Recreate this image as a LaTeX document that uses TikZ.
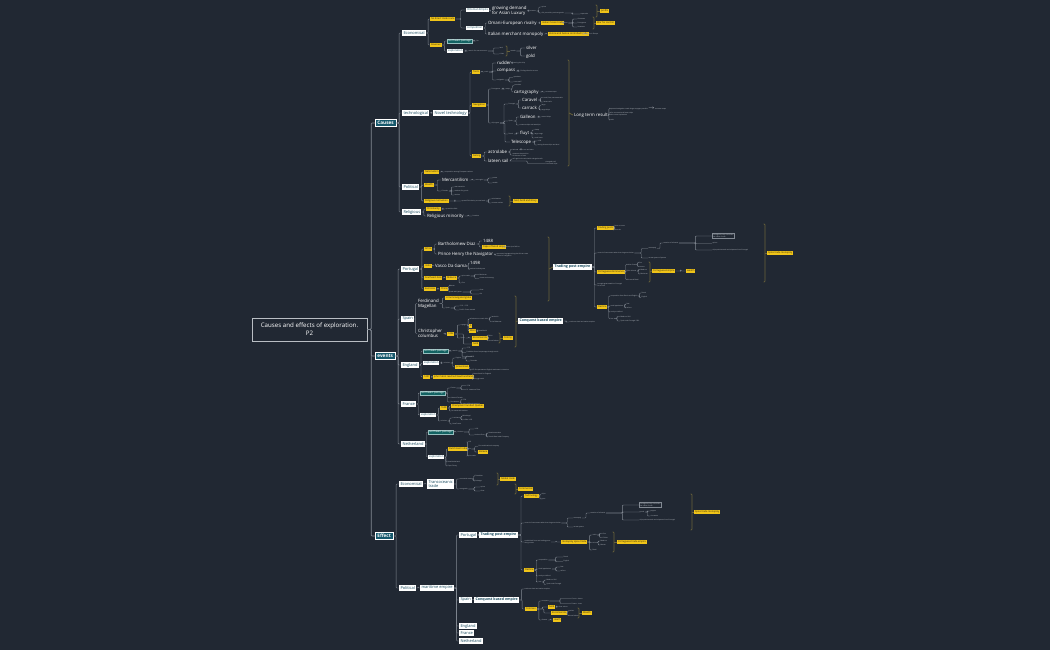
\documentclass[tikz,border=0pt]{standalone}
\usepackage{fontspec}
\setmainfont{Open Sans}
\usetikzlibrary{calc}
\definecolor{bg}{RGB}{33,40,51}
\definecolor{lvlfill}{RGB}{22,88,108}
\definecolor{tealbox}{RGB}{18,98,98}
\definecolor{wtext}{RGB}{25,75,95}
\definecolor{ylw}{RGB}{240,196,25}
\definecolor{ytext}{RGB}{50,40,10}
\definecolor{linec}{RGB}{130,137,147}
\definecolor{ttext}{RGB}{200,205,211}
\definecolor{olive}{RGB}{105,98,58}
\newcommand\kid[6]{\node[#3,anchor=west] (#2) at (#4,#5) {#6}; \draw[conn] (#1.east) to[elbow] (#2.west);}
\newcommand\summ[4]{\draw[brkt] ({#1-1.5},#2) -- (#1,#2) -- (#1,#3) -- ({#1-1.5},#3); \draw[brkt] (#1,{(#2+#3)/2}) -- (#4.west);}
\begin{document}
\begin{tikzpicture}[x=1bp,y=-1bp,
  elbow/.style={to path={-| ($(\tikztostart)!.5!(\tikztotarget)$) |- (\tikztotarget)}},
  conn/.style={draw=linec,line width=0.4bp,rounded corners=0.8bp},
  trunk/.style={draw=linec,line width=0.7bp,rounded corners=1bp},
  brkt/.style={draw=olive,line width=0.7bp,rounded corners=0.8bp},
  root/.style={draw={rgb,255:red,185;green,190;blue,196},line width=0.7bp,fill=bg,text=white,font=\fontsize{6.2}{8.2}\selectfont,align=center,minimum width=115bp,minimum height=23bp,inner sep=1bp},
  lvl/.style={fill=lvlfill,draw=white,line width=0.4bp,text=white,font=\bfseries\fontsize{4.7}{5.5}\selectfont,inner xsep=2.2bp,inner ysep=1.8bp},
  wb/.style={fill=white,text=wtext,font=\fontsize{4}{4.8}\selectfont,inner xsep=1.3bp,inner ysep=1.3bp,align=left},
  wbt/.style={fill=white,text=wtext,font=\bfseries\fontsize{3.6}{4.4}\selectfont,inner xsep=1.4bp,inner ysep=1.4bp},
  wbs/.style={fill=white,text=wtext,font=\fontsize{2.7}{3.1}\selectfont,inner sep=1bp},
  tb/.style={fill=tealbox,draw={rgb,255:red,150;green,190;blue,190},line width=0.2bp,text=white,font=\fontsize{2.6}{3}\selectfont,inner sep=1bp},
  yb/.style={fill=ylw,text=ytext,font=\fontsize{2.4}{2.8}\selectfont,inner sep=0.9bp},
  pt/.style={text=white,font=\fontsize{4.4}{5}\selectfont,inner sep=0.8bp,align=left},
  tt/.style={text=ttext,font=\fontsize{1.6}{1.9}\selectfont,inner sep=0.5bp,align=left},
  tob/.style={tt,draw=linec,line width=0.3bp,inner sep=0.8bp}]
\fill[bg] (0,0) rectangle (1050,650);
\useasboundingbox (0,0) rectangle (1050,650);

% ---------- root and main levels
\node[root] (root) at (309.5,329.5) {Causes and effects of exploration.\\P2};
\node[lvl,anchor=west] (causes) at (375,123) {Causes};
\node[lvl,anchor=west] (events) at (375,356) {events};
\node[lvl,anchor=west] (effect) at (375,536) {Effect};
\draw[trunk] (root.east) to[elbow] (causes.west);
\draw[trunk] (root.east) to[elbow] (events.west);
\draw[trunk] (root.east) to[elbow] (effect.west);

% ---------- CAUSES
\kid{causes}{eco}{wb}{402}{33}{Economical}
\kid{causes}{tech}{wb}{402}{113}{technological}
\kid{causes}{pol}{wb}{402}{187}{Political}
\kid{causes}{rel}{wb}{402}{212}{Religious}

% Economical
\kid{eco}{ecoA}{yb}{430}{19}{No direct trade route}
\kid{eco}{ecoB}{yb}{430}{45}{Revenue}
\kid{ecoA}{ott}{wbs}{466}{10}{Ottoman Empire}
\kid{ecoA}{comp}{wbs}{466}{28}{competition}
\kid{ott}{gd}{pt}{491}{11}{growing demand\\for Asian Luxury}
\kid{gd}{gd1}{tt}{529}{11}{because}
\kid{gd1}{gd2}{tt}{541}{7}{spices}
\kid{gd1}{gd3}{tt}{541}{13}{silk, porcelain, precious goods}
\kid{gd3}{gd4}{tt}{580}{14}{expensive}
\node[yb,anchor=west] (gd5) at (600,11) {profits};
\summ{597}{5}{17}{gd5}
\kid{comp}{omani}{pt}{487}{23}{Omani-European rivalry}
\kid{comp}{ital}{pt}{487}{34}{Italian merchant monopoly}
\kid{omani}{om1}{yb}{541}{23}{Indian Ocean trade}
\kid{om1}{om2}{tt}{562}{23}{Effects}
\kid{om2}{om3}{tt}{577}{19}{Ottomans}
\kid{om2}{om4}{tt}{577}{23}{Portuguese}
\kid{om2}{om5}{tt}{577}{27}{Venetians}
\node[yb,anchor=west] (om6) at (596,23) {War for control};
\summ{594}{17}{29}{om6}
\kid{ital}{it1}{yb}{548}{34}{Venice and Genoa controlled trade}
\kid{it1}{it2}{tt}{582}{34}{high prices in Europe}
\kid{ecoB}{nwp1}{tb}{447}{41}{northwest passage}
\kid{ecoB}{exp1}{wbs}{447}{51}{exploration}
\kid{nwp1}{nw1a}{tt}{476}{41}{fur}
\kid{exp1}{ex1a}{tt}{468}{51}{search for new resources}
\kid{ex1a}{ex1b}{tt}{499}{48}{land}
\kid{ex1a}{ex1c}{tt}{499}{54}{riches}
\node[tt,anchor=west] (ex1d) at (510,51) {metals};
\summ{507}{46}{56}{ex1d}
\kid{ex1d}{silver}{pt}{525}{48}{silver}
\kid{ex1d}{gold}{pt}{525}{56}{gold}

% Technological
\kid{tech}{novel}{wb}{433}{113}{Novel technology}
\kid{novel}{tools}{yb}{472}{72}{Tools}
\kid{novel}{navi}{yb}{472}{105}{Navigation}
\kid{novel}{sail}{yb}{472}{156}{Sailing}
\kid{tools}{tl1}{tt}{484}{72}{tools}
\kid{tl1}{rudder}{pt}{496}{63}{rudder}
\kid{tl1}{compass}{pt}{496}{71}{compass}
\kid{tl1}{quad}{tt}{496}{80}{navigation}
\kid{rudder}{ru1}{tt}{512}{63}{steering the ship}
\kid{compass}{co1}{tt}{520}{71}{finding direction at sea}
\kid{quad}{qu1}{tt}{513}{77.5}{quadrant}
\kid{quad}{qu2}{tt}{513}{82}{cross-staff}
\kid{navi}{nv1}{tt}{491}{89}{Portuguese}
\kid{nv1}{nv2}{tt}{505}{89}{maps}
\kid{nv2}{nv3}{tt}{514}{85.5}{portolan}
\kid{nv2}{carto}{pt}{513}{92}{cartography}
\kid{carto}{ca1}{tt}{545}{92}{accurate maps}
\kid{navi}{nv4}{tt}{491}{123}{ship types}
\kid{nv4}{nvP}{tt}{508}{104}{Portugal}
\kid{nv4}{nvS}{tt}{508}{121}{Spain}
\kid{nv4}{nvD}{tt}{508}{134}{Dutch}
\kid{nv4}{tele}{pt}{510}{142}{Telescope}
\kid{nvP}{carav}{pt}{521}{100}{Caravel}
\kid{nvP}{carr}{pt}{521}{108}{carrack}
\kid{carav}{cv1}{tt}{543}{97.5}{small, fast, manoeuvrable}
\kid{carav}{cv2}{tt}{543}{102}{lateen sails}
\kid{carr}{cr1}{tt}{541}{105.5}{large}
\kid{carr}{cr2}{tt}{541}{110}{cargo ships}
\kid{nvS}{galleon}{pt}{519}{117}{Galleon}
\kid{nvS}{gl0}{tt}{519}{125}{treasure ships and warships}
\kid{galleon}{gl1}{tt}{541}{117}{armed ships}
\kid{nvD}{fluyt}{pt}{519}{133}{fluyt}
\kid{fluyt}{fl1}{tt}{534}{130}{cheap}
\kid{fluyt}{fl2}{tt}{534}{134}{large cargo}
\kid{fluyt}{fl3}{tt}{534}{138}{small crew}
\kid{tele}{te1}{tt}{537}{141}{1608}
\kid{tele}{te2}{tt}{537}{145}{seeing distant ships and land}
\kid{sail}{astro}{pt}{487}{152}{astrolabe}
\kid{sail}{lateen}{pt}{487}{161}{lateen sail}
\kid{astro}{as1}{tt}{512}{149.5}{latitude}
\kid{as1}{as2}{tt}{523}{149.5}{sun and stars}
\kid{astro}{as3}{tt}{512}{155}{measure the position\\of the sun or stars}
\kid{lateen}{la1}{tt}{512}{159}{sail against the wind with triangular sails}
\kid{lateen}{la2}{tt}{545}{163.5}{triangular sail\\from Arab ships}
\node[pt,anchor=west] (ltr) at (573,115) {Long term result};
\summ{569}{60}{166}{ltr}
\kid{ltr}{lt1}{tt}{609}{108.5}{improved navigation made longer voyages possible $\rightarrow$ accurate maps}
\kid{ltr}{lt2}{tt}{609}{114}{safer sea travel and faster ships\\led to more exploration}
\kid{ltr}{lt3}{tt}{609}{120}{trade}

% Political
\kid{pol}{nat}{yb}{424}{172}{Nationalism}
\kid{pol}{wealth}{yb}{424}{185}{Wealth}
\kid{pol}{relmot}{yb}{424}{201}{Religious motivation}
\kid{nat}{na1}{tt}{444}{172}{competition among European nations}
\kid{wealth}{merc}{pt}{441}{180}{Mercantilism}
\kid{wealth}{col}{tt}{441}{191}{Colonies}
\kid{merc}{me1}{tt}{475}{180}{more gold}
\kid{me1}{me2}{tt}{492}{178}{power}
\kid{me1}{me3}{tt}{492}{183}{wealth}
\kid{col}{co2}{tt}{454}{187}{raw materials}
\kid{col}{co3}{tt}{454}{191}{markets for goods}
\kid{col}{co4}{tt}{454}{195}{settlers}
\kid{relmot}{rm1}{tt}{461}{201}{spread Christianity to new lands}
\kid{rm1}{rm2}{tt}{491}{199}{missionaries}
\kid{rm1}{rm3}{tt}{491}{203}{convert natives}
\node[yb,anchor=west] (rm4) at (513,201) {God, Gold and Glory};
\summ{510}{196}{206}{rm4}
\kid{rel}{chr}{yb}{426}{209}{Christianity}
\kid{rel}{relmin}{pt}{426}{216}{Religious minority}
\kid{chr}{ch1}{tt}{445}{209}{spread the faith}
\kid{relmin}{rmi1}{tt}{472}{216}{freedom}

% ---------- EVENTS
\kid{events}{por}{wb}{401}{269}{Portugal}
\kid{events}{spa}{wb}{401}{319}{Spain}
\kid{events}{eng}{wb}{401}{365}{England}
\kid{events}{fra}{wb}{401}{404}{France}
\kid{events}{net}{wb}{401}{444}{Netherland}

% Portugal
\kid{por}{afr}{yb}{424}{249}{Africa}
\kid{por}{ind}{yb}{424}{266}{India}
\kid{por}{sea}{yb}{424}{278}{Southeast Asia}
\kid{por}{eas}{yb}{424}{289}{East Asia}
\kid{afr}{diaz}{pt}{437}{244}{Bartholomew Diaz}
\kid{afr}{henry}{pt}{437}{254}{Prince Henry the Navigator}
\kid{diaz}{d1}{pt}{482}{241}{1488}
\kid{diaz}{d2}{yb}{482}{247}{Cape of Good Hope}
\kid{d2}{d3}{tt}{503}{247}{southern tip of Africa}
\kid{henry}{h1}{tt}{496}{255}{sponsored voyages along the African coast\\school of navigation}
\kid{ind}{gama}{pt}{434}{266}{Vasco Da Gama}
\kid{gama}{g1}{pt}{469}{263}{1498}
\kid{gama}{g2}{tt}{469}{269.5}{reached India by sea}
\kid{sea}{se1}{yb}{446}{278}{Malacca}
\kid{se1}{se2}{tt}{461}{276}{spice trade}
\kid{se2}{se3}{tt}{479}{274.5}{Moluccas}
\kid{se2}{se4}{tt}{479}{278.5}{cloves and nutmeg}
\kid{se1}{se5}{tt}{461}{283}{Goa}
\kid{eas}{ea1}{yb}{440}{289}{China}
\kid{ea1}{ea2}{tt}{449}{285.5}{Macau}
\kid{ea1}{ea3}{tt}{449}{292}{trade with Japan}
\kid{ea3}{ea4}{tt}{479}{290}{silver}
\kid{ea3}{ea5}{tt}{479}{294}{silk}
\node[wbt,anchor=west] (tpe) at (553,267) {Trading post empire};
\summ{549}{237}{301}{tpe}
\kid{tpe}{tp1}{yb}{597}{228}{Trading posts}
\kid{tp1}{tp1a}{tt}{614}{226}{forts on coast}
\kid{tp1}{tp1b}{tt}{614}{230}{factories}
\kid{tpe}{tp2}{tt}{597}{253}{control of sea routes rather than large territories}
\kid{tp2}{tp2a}{tt}{648}{248.5}{monopoly}
\kid{tp2}{tp2b}{tt}{648}{258}{cartaz system of passes}
\kid{tp2a}{tp2c}{tt}{663}{243}{taxation of all trade}
\kid{tp2c}{tp2d}{tob}{712}{236}{Portuguese navy controlled\\the Indian Ocean}
\kid{tp2c}{tp2e}{tt}{712}{243.5}{spices}
\kid{tp2c}{tp2f}{tt}{712}{250}{ships paid tax and carried passes from Portugal}
\node[yb,anchor=west] (tp2g) at (767,253) {Spice trade monopoly};
\summ{765}{224}{282}{tp2g}
\kid{tpe}{tp3}{yb}{597}{272}{Portuguese dominance}
\kid{tp3}{tp3a}{tt}{626}{264.5}{Indian Ocean}
\kid{tp3}{tp3b}{tt}{626}{271}{Spice Islands}
\kid{tp3}{tp3c}{tt}{626}{279.5}{Africa and Brazil}
\kid{tp3a}{tp3d}{tt}{638}{262.5}{Goa}
\kid{tp3a}{tp3e}{tt}{638}{266.5}{Hormuz}
\kid{tp3b}{tp3f}{tt}{640}{269.5}{Malacca}
\kid{tp3b}{tp3g}{tt}{640}{274}{Moluccas}
\node[yb,anchor=west] (tp3h) at (652,271) {Portuguese Empire};
\summ{650}{262}{282}{tp3h}
\kid{tp3h}{tp3i}{yb}{686}{271}{wealth}
\kid{tpe}{tp4}{tt}{597}{285}{brought great wealth to Portugal\\for a time}
\kid{tpe}{tp5}{yb}{597}{307}{Decline}
\kid{tp5}{tp5a}{tt}{610}{296}{competition from Dutch and English}
\kid{tp5a}{tp5b}{tt}{641}{293}{Dutch}
\kid{tp5a}{tp5c}{tt}{641}{297.5}{English}
\kid{tp5}{tp5d}{tt}{610}{306}{small population}
\kid{tp5d}{tp5e}{tt}{626}{304}{few}
\kid{tp5d}{tp5f}{tt}{626}{308}{sailors}
\kid{tp5}{tp5g}{tt}{610}{312}{costly to defend}
\kid{tp5}{tp5h}{tt}{610}{318.5}{lost}
\kid{tp5h}{tp5i}{tt}{620}{316.5}{Malacca 1641}
\kid{tp5h}{tp5j}{tt}{620}{321}{Spain took Portugal 1580}

% Spain
\kid{spa}{mag}{pt}{417}{303.5}{Ferdinand\\Magellan}
\kid{spa}{colum}{pt}{417}{333.5}{Christopher\\columbus}
\kid{mag}{mg1}{yb}{445}{298}{circumnavigated globe}
\kid{mag}{mg2}{tt}{445}{308}{Spain}
\kid{mg2}{mg3}{tt}{459}{306}{1519 - 1522}
\kid{mg2}{mg4}{tt}{459}{310}{Pacific Ocean named}
\kid{colum}{cl0}{yb}{447}{334}{1492}
\kid{cl0}{cl1}{tt}{460}{325}{voyages}
\kid{cl1}{cl2}{tt}{469}{319}{sailed west to reach Asia}
\kid{cl2}{cl3}{tt}{491}{317}{landed in}
\kid{cl2}{cl4}{tt}{491}{321.5}{the Bahamas}
\kid{cl1}{cl5}{yb}{469}{326}{4}
\kid{cl1}{cl6}{yb}{469}{331}{West}
\kid{cl6}{cl7}{tt}{478}{331}{New World}
\kid{cl0}{cl8}{tt}{460}{338}{Spain}
\kid{cl8}{cl9}{yb}{472}{338}{Encomienda}
\kid{cl9}{cl10}{tt}{488}{335.5}{Taino}
\kid{cl9}{cl11}{tt}{488}{340.5}{forced labour}
\node[yb,anchor=west] (cl12) at (503,338) {Colony};
\summ{500}{333}{343}{cl12}
\kid{cl0}{cl13}{yb}{472}{344}{Gold}
\node[wbt,anchor=west] (cbe) at (518,321) {Conquest based empire};
\summ{516}{296}{347}{cbe}
\kid{cbe}{cb1}{tt}{569}{322}{took over land and native empires}

% England
\kid{eng}{nwp2}{tb}{423}{351}{northwest passage}
\kid{eng}{exp2}{wbs}{423}{363}{exploration}
\kid{eng}{en1}{yb}{423}{377}{1497}
\kid{nwp2}{nw2a}{tt}{452}{351}{search}
\kid{nw2a}{nw2b}{tt}{466}{348}{1576}
\kid{nw2a}{nw2c}{tt}{466}{352.5}{Frobisher found no passage through north}
\kid{nw2a}{nw2d}{tt}{466}{356.5}{Canada}
\kid{exp2}{ex2a}{tt}{443}{363}{colonies}
\kid{ex2a}{ex2b}{tt}{455}{358}{Virginia}
\kid{ex2a}{ex2c}{yb}{455}{367}{Jamestown}
\kid{ex2b}{ex2d}{tt}{470}{356.5}{1585}
\kid{ex2b}{ex2e}{tt}{470}{361}{Roanoke}
\kid{ex2c}{ex2f}{tt}{470}{370}{1607 first permanent English settlement in America}
\kid{en1}{en2}{yb}{433}{377}{John Cabot reached Newfoundland}
\kid{en2}{en3}{tt}{472}{374.5}{claimed land for England}
\kid{en2}{en4}{tt}{472}{379.5}{fishing grounds}

% France
\kid{fra}{nwp3}{tb}{420}{393}{northwest passage}
\kid{fra}{exp3}{wbs}{420}{415}{exploration}
\kid{nwp3}{nw3a}{tt}{450}{388}{Cartier}
\kid{nw3a}{nw3b}{tt}{466}{385.5}{1534}
\kid{nw3a}{nw3c}{tt}{466}{389.5}{St. Lawrence River}
\kid{nwp3}{nw3d}{tt}{450}{397.5}{claimed Canada}
\kid{nwp3}{nw3e}{tt}{450}{402}{Verrazzano}
\kid{nw3e}{nw3f}{tt}{462}{399.5}{1524}
\kid{nw3e}{nw3g}{tt}{462}{404}{coast of North America}
\kid{exp3}{ex3a}{yb}{440}{408}{1608}
\kid{ex3a}{ex3b}{yb}{451}{406}{Champlain founded Quebec}
\kid{ex3a}{ex3c}{tt}{451}{411}{fur trade with natives}
\kid{exp3}{ex3d}{tt}{440}{421}{colonies}
\kid{ex3d}{ex3e}{tt}{452}{418}{Louisiana}
\kid{ex3e}{ex3f}{tt}{462}{416}{Mississippi}
\kid{ex3e}{ex3g}{tt}{462}{420}{La Salle 1682}
\kid{ex3d}{ex3h}{tt}{452}{424}{New France}

% Netherland
\kid{net}{nwp4}{tb}{428}{432}{northwest passage}
\kid{net}{exp4}{wbs}{428}{457}{exploration}
\kid{nwp4}{nw4a}{tt}{457}{432}{Hudson}
\kid{nw4a}{nw4b}{tt}{474}{429}{1609}
\kid{nw4a}{nw4c}{tt}{474}{435}{Hudson River}
\kid{nw4c}{nw4d}{tt}{488}{433}{New Amsterdam}
\kid{nw4c}{nw4e}{tt}{488}{437}{Dutch West India Company}
\kid{exp4}{ex4a}{yb}{448}{449}{Dutch East India}
\kid{ex4a}{ex4b}{tt}{467}{442}{1602}
\kid{ex4a}{ex4c}{tt}{467}{449}{Asia}
\kid{ex4c}{ex4d}{tt}{478}{446.5}{first multinational company}
\kid{ex4c}{ex4e}{yb}{478}{452}{Batavia}
\kid{ex4a}{ex4f}{tt}{467}{456}{spice trade}
\kid{exp4}{ex4g}{tt}{447}{462}{New Netherland}
\kid{exp4}{ex4h}{tt}{447}{466}{Cape Colony}

% ---------- EFFECT
\kid{effect}{eco2}{wb}{399}{484}{Economical}
\kid{effect}{pol2}{wb}{399}{588}{Political}
\kid{eco2}{trans}{wb}{427}{484}{Transoceanic\\trade}
\kid{trans}{tr1}{tt}{459}{479}{new trade routes}
\kid{tr1}{tr2}{tt}{474}{476}{Columbian}
\kid{tr1}{tr3}{tt}{474}{481}{Exchange}
\node[yb,anchor=west] (tr4) at (500,479) {Global trade};
\summ{498}{473}{485}{tr4}
\kid{trans}{tr5}{tt}{459}{489}{new goods}
\kid{tr5}{tr6}{tt}{480}{487}{spices}
\kid{tr5}{tr7}{tt}{480}{491}{silver}
\node[yb,anchor=west] (tr8) at (518,489) {Commercial};
\summ{516}{484}{494}{tr8}
\kid{pol2}{mar}{wb}{420}{588}{maritime empire}
\kid{mar}{por2}{wb}{459}{535}{Portugal}
\kid{mar}{spa2}{wb}{459}{600}{Spain}
\kid{mar}{eng2}{wb}{459}{626}{England}
\kid{mar}{fra2}{wb}{459}{633}{France}
\kid{mar}{net2}{wb}{459}{641}{Netherland}

\kid{por2}{tpe2}{wbt}{479}{535}{Trading post empire}
\kid{tpe2}{tq1}{yb}{524}{496}{Technology}
\kid{tq1}{tq1a}{tt}{541}{494.5}{ships}
\kid{tq1}{tq1b}{tt}{541}{499}{guns}
\kid{tpe2}{tq2}{tt}{524}{523}{control of sea routes rather than large territories}
\kid{tq2}{tq2a}{tt}{573}{518}{monopoly}
\kid{tq2}{tq2b}{tt}{573}{527}{cartaz system}
\kid{tq2a}{tq2c}{tt}{590}{513}{taxation of all trade}
\kid{tq2c}{tq2d}{tob}{639}{505}{Portuguese navy controlled\\the Indian Ocean}
\kid{tq2c}{tq2e}{tt}{639}{512}{goods}
\kid{tq2e}{tq2g}{tt}{650}{511}{pepper}
\kid{tq2e}{tq2h}{tt}{650}{516}{cinnamon}
\kid{tq2c}{tq2f}{tt}{639}{520}{ships paid tax and carried passes from Portugal}
\node[yb,anchor=west] (tq2i) at (694,512) {Spice trade monopoly};
\summ{692}{494}{530}{tq2i}
\kid{tpe2}{tq3}{tt}{524}{542}{established forts and trading posts\\along coasts}
\kid{tq3}{tq4}{yb}{561}{542}{monopoly spice trade}
\kid{tq4}{tq4a}{tt}{592}{535}{India}
\kid{tq4a}{tq4b}{tt}{602}{533.5}{Goa}
\kid{tq4a}{tq4c}{tt}{602}{537.5}{Calicut}
\kid{tq4}{tq4d}{tt}{592}{542.5}{Asia}
\kid{tq4d}{tq4e}{tt}{600}{541}{Malacca}
\kid{tq4d}{tq4f}{tt}{600}{545}{Macau}
\kid{tq4}{tq4g}{tt}{592}{550}{Brazil}
\node[yb,anchor=west] (tq5) at (617,542) {Portuguese trade empire};
\summ{614}{532}{552}{tq5}
\kid{tpe2}{tq6}{yb}{524}{570}{Decline}
\kid{tq6}{tq6a}{tt}{538}{560}{competition}
\kid{tq6a}{tq6b}{tt}{563}{557}{Dutch}
\kid{tq6a}{tq6c}{tt}{563}{561.5}{English}
\kid{tq6}{tq6d}{tt}{538}{569}{small population}
\kid{tq6d}{tq6e}{tt}{560}{567}{few}
\kid{tq6d}{tq6f}{tt}{560}{571}{sailors}
\kid{tq6}{tq6g}{tt}{538}{576}{costly to defend}
\kid{tq6}{tq6h}{tt}{538}{582}{lost}
\kid{tq6h}{tq6i}{tt}{546}{580}{Malacca 1641}
\kid{tq6h}{tq6j}{tt}{546}{584.5}{Spain took Portugal}

\kid{spa2}{cbe2}{wbt}{474}{600}{Conquest based empire}
\kid{cbe2}{cq1}{tt}{524}{589}{took over land and native empires}
\kid{cbe2}{cq2}{yb}{525}{609}{Colonies}
\kid{cq2}{cq3}{tt}{541}{601}{conquest}
\kid{cq3}{cq4}{tt}{571}{598.5}{Cortes - Aztecs}
\kid{cq3}{cq5}{tt}{571}{603.5}{Pizarro - Incas}
\kid{cq2}{cq6}{yb}{548}{607}{Gold}
\kid{cq6}{cq7}{tt}{558}{607}{silver mines}
\kid{cq2}{cq8}{yb}{551}{613}{Encomienda}
\kid{cq8}{cq9}{tt}{568}{611}{natives}
\kid{cq8}{cq10}{tt}{568}{615.5}{forced labour}
\node[yb,anchor=west] (cq11) at (582,613) {Wealth};
\summ{579}{608}{618}{cq11}
\kid{cq2}{cq12}{tt}{541}{620}{disease}
\kid{cq12}{cq13}{yb}{553}{620}{death}
\end{tikzpicture}
\end{document}
